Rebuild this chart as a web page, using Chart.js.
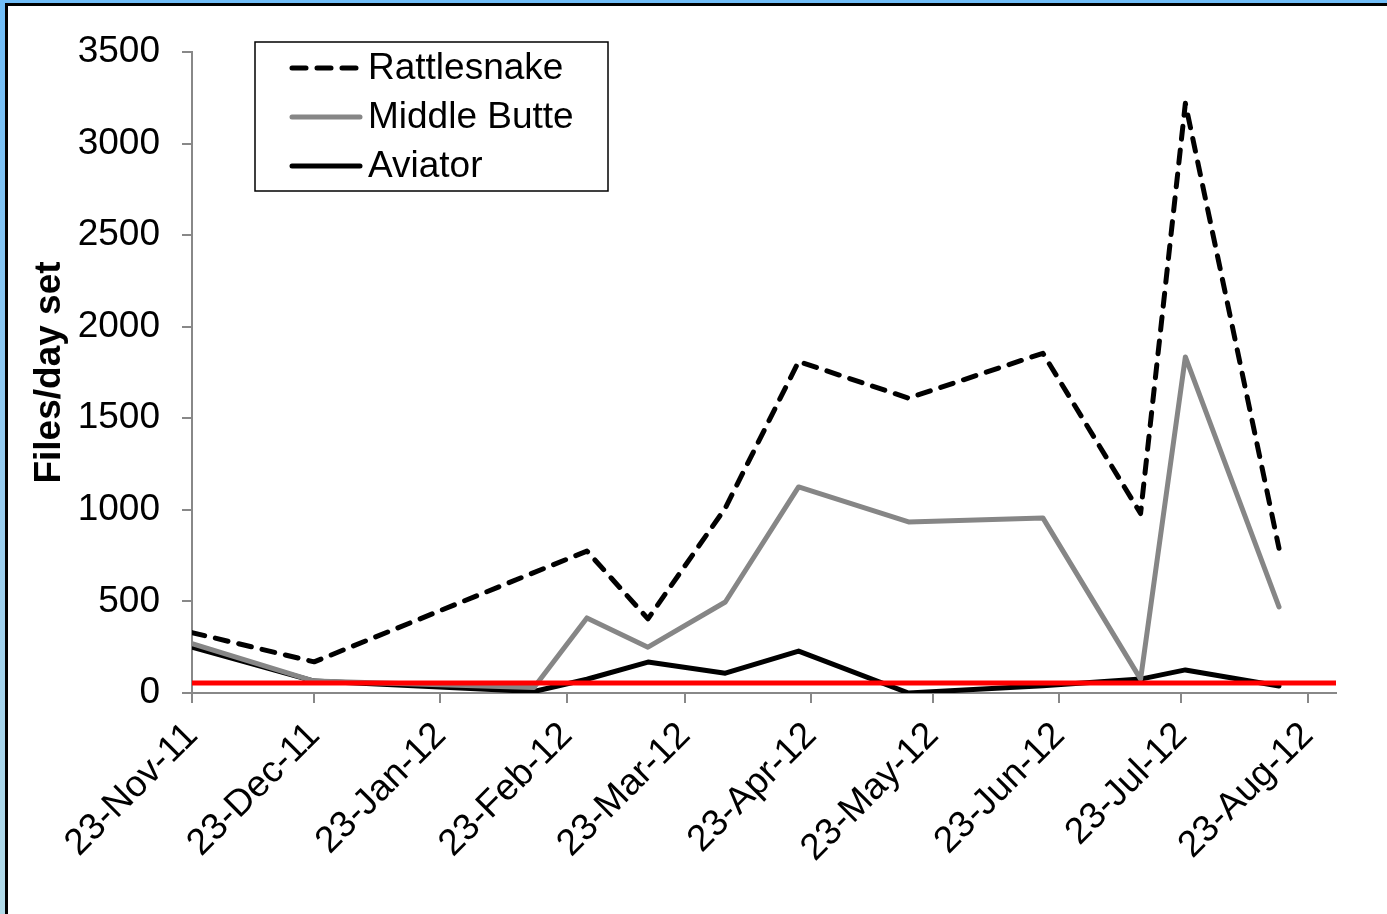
<!DOCTYPE html>
<html>
<head>
<meta charset="utf-8">
<script src="https://cdn.jsdelivr.net/npm/chart.js@4.4.1/dist/chart.umd.min.js"></script>
<style>
html,body{margin:0;padding:0;width:1387px;height:914px;overflow:hidden;background:#fff;}
#frame{position:absolute;left:0;top:0;width:1387px;height:914px;background:linear-gradient(to bottom,#70bdf8 0%,#98cdf0 55%,#b2dbe9 100%);}
#inner{position:absolute;left:5px;top:3px;width:1382px;height:911px;border-top:3px solid #000;border-left:3px solid #000;background:#fff;box-sizing:border-box;}
#c{position:absolute;left:0;top:0;}
</style>
</head>
<body>
<div id="frame"><div id="inner"><canvas id="c" width="1379" height="908"></canvas></div></div>
<script>
// ---- data ----
const originDate = '2011-11-23';
const sampleDates = ['2011-11-23','2011-12-23','2012-02-15','2012-02-28','2012-03-14','2012-04-02','2012-04-20','2012-05-17','2012-06-19','2012-07-13','2012-07-24','2012-08-16'];
const rattlesnake = [330, 170, null, 775, 405, 1010, 1810, 1610, 1855, 980, 3220, 790];
const middleButte = [270, 65, 30, 410, 250, 497, 1125, 934, 956, 76, 1835, 470];
const aviator     = [250, 65, 8, 75, 169, 108, 229, 0, 40, 76, 126, 38];
const thresholdValue = 55;
const tickDates  = ['2011-11-23','2011-12-23','2012-01-23','2012-02-23','2012-03-23','2012-04-23','2012-05-23','2012-06-23','2012-07-23','2012-08-23'];
const tickLabels = ['23-Nov-11','23-Dec-11','23-Jan-12','23-Feb-12','23-Mar-12','23-Apr-12','23-May-12','23-Jun-12','23-Jul-12','23-Aug-12'];
const axisMaxDays = 281;
const yTicks = {min:0, max:3500, step:500};
const seriesNames = ['Rattlesnake','Middle Butte','Aviator'];

// ---- helpers ----
function dayOffset(s){
  const [y,m,d] = s.split('-').map(Number);
  const [oy,om,od] = originDate.split('-').map(Number);
  return Math.round((Date.UTC(y,m-1,d) - Date.UTC(oy,om-1,od)) / 86400000);
}
const xs = sampleDates.map(dayOffset);
const tickDays = tickDates.map(dayOffset);
const tickLabelMap = {};
tickDays.forEach((d,i)=>{ tickLabelMap[d] = tickLabels[i]; });
const toPts = arr => arr.map((v,i)=>({x:xs[i], y:v}));

const FONT = '"Liberation Sans", Arial, Helvetica, sans-serif';

const boxLegend = {
  id:'boxLegend',
  afterDraw(chart){
    const ctx = chart.ctx;
    const bx = 247, by = 36, bw = 353, bh = 149;
    ctx.save();
    ctx.strokeStyle = '#000';
    ctx.lineWidth = 1.5;
    ctx.strokeRect(bx, by, bw, bh);
    const rowY = [62, 111, 160];
    chart.data.datasets.slice(0,3).forEach((ds,i)=>{
      const y = rowY[i];
      ctx.beginPath();
      ctx.strokeStyle = ds.borderColor;
      ctx.lineWidth = ds.borderWidth;
      ctx.lineCap = 'round';
      ctx.setLineDash(ds.borderDash ? [14, 11] : []);
      ctx.moveTo(284, y);
      ctx.lineTo(352, y);
      ctx.stroke();
      ctx.setLineDash([]);
      ctx.fillStyle = '#000';
      ctx.font = '37px ' + FONT;
      ctx.textBaseline = 'middle';
      ctx.textAlign = 'left';
      ctx.fillText(ds.label, 360, y + 1);
    });
    ctx.restore();
  }
};

new Chart(document.getElementById('c'), {
  type:'line',
  data:{
    datasets:[
      {label:seriesNames[0], data:toPts(rattlesnake), borderColor:'#000', borderWidth:5, borderDash:[13,11], borderCapStyle:'round', borderJoinStyle:'round', pointRadius:0, spanGaps:true, order:1, tension:0},
      {label:seriesNames[1], data:toPts(middleButte), borderColor:'#868686', borderWidth:5, borderJoinStyle:'round', borderCapStyle:'round', pointRadius:0, spanGaps:true, order:2, tension:0},
      {label:seriesNames[2], data:toPts(aviator), borderColor:'#000', borderWidth:5, borderJoinStyle:'round', borderCapStyle:'round', pointRadius:0, spanGaps:true, order:3, tension:0},
      {label:'threshold', data:[{x:0,y:thresholdValue},{x:axisMaxDays,y:thresholdValue}], borderColor:'#ff0000', borderWidth:5, pointRadius:0, order:0, tension:0}
    ]
  },
  options:{
    responsive:false,
    animation:false,
    devicePixelRatio:1,
    layout:{padding:{left:0, top:46, right:51, bottom:0}},
    plugins:{legend:{display:false}, tooltip:{enabled:false}},
    scales:{
      x:{
        type:'linear', min:0, max:axisMaxDays,
        afterBuildTicks(s){ s.ticks = tickDays.map(v=>({value:v})); },
        afterFit(s){ s.height = 221; },
        ticks:{autoSkip:false, maxRotation:45, minRotation:45, padding:11, color:'#000',
               font:{family:FONT, size:37}, callback:v=>tickLabelMap[v] || ''},
        grid:{display:true, drawOnChartArea:false, drawTicks:true, tickLength:10, color:'#888', lineWidth:2},
        border:{display:true, color:'#888', width:2}
      },
      y:{
        min:yTicks.min, max:yTicks.max,
        afterFit(s){ s.width = 184; },
        ticks:{stepSize:yTicks.step, padding:22, color:'#000', font:{family:FONT, size:37}, callback:v=>String(v)},
        grid:{display:true, drawOnChartArea:false, drawTicks:true, tickLength:10, color:'#888', lineWidth:2},
        border:{display:true, color:'#888', width:2},
        title:{display:true, text:'Files/day set', color:'#000', font:{family:FONT, size:37, weight:'bold'}, padding:{top:20, bottom:0}}
      }
    }
  },
  plugins:[boxLegend]
});
</script>
</body>
</html>
